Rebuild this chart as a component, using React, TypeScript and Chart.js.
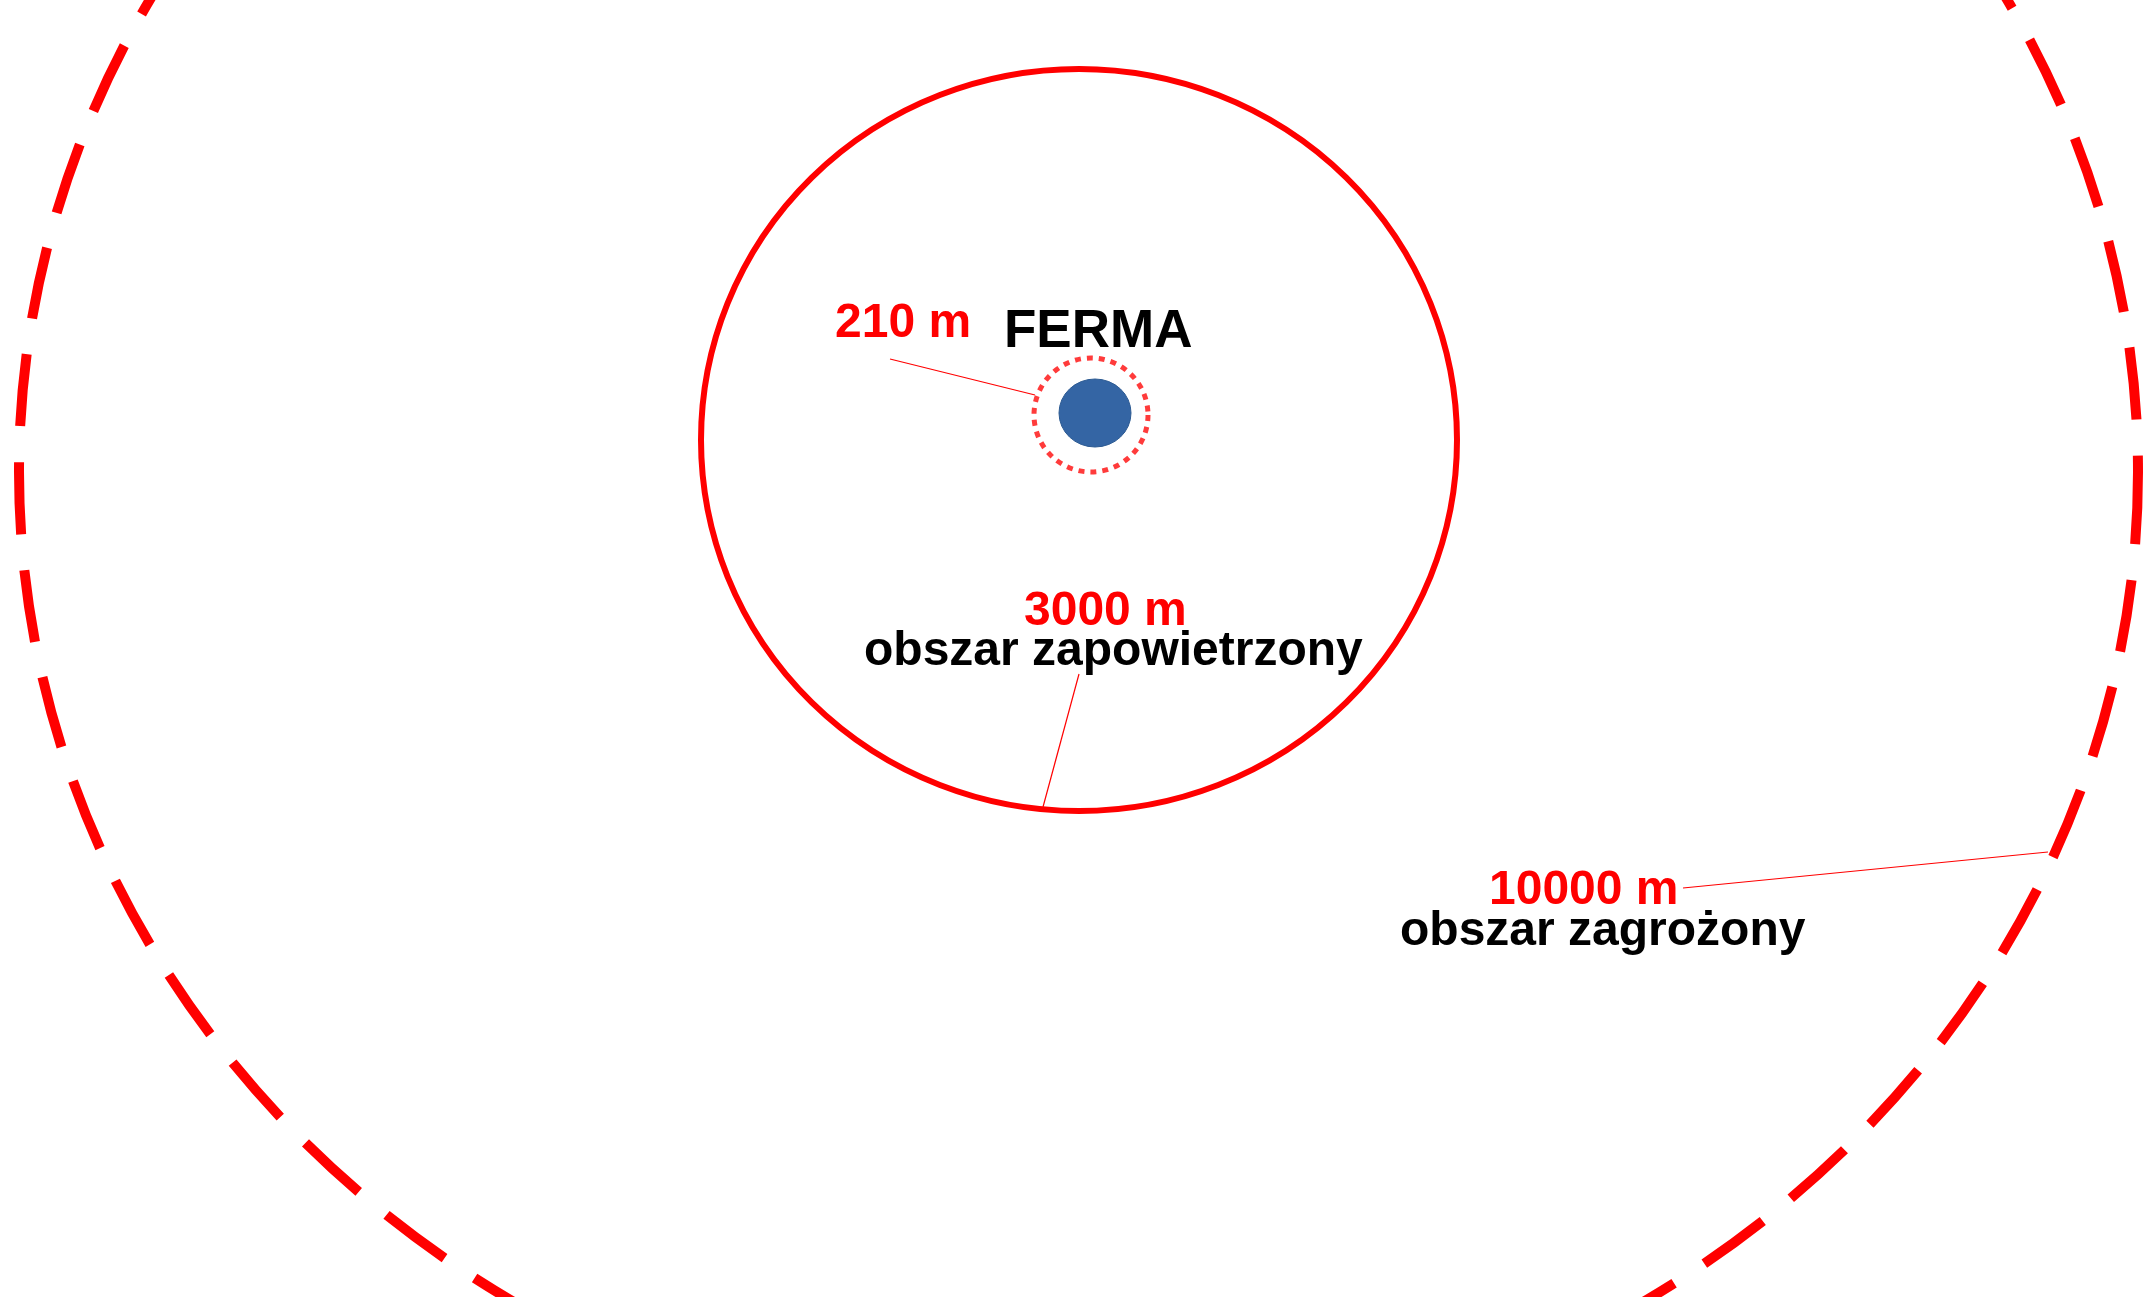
import React, { useEffect, useRef } from "react";
import { Chart, registerables } from "chart.js";

Chart.register(...registerables);

// ---- Diagram data (diagram units: 1 unit = 1 px of the reference) ----
const zoneLabels = ["210 m", "3000 m", "10000 m"];
const zoneDescriptions = ["", "obszar zapowietrzony", "obszar zagrożony"];
const zoneCenterX = [1091, 1079, 1078.5];
const zoneCenterY = [415, 440, 472];
const zoneRadiusX = [57, 378, 1059.5];
const zoneRadiusY = [57, 371, 981];

const farmLabel = "FERMA";
const farmCenter = [1095, 413];
const farmRadius = [36, 34];

// label anchor (left, baseline) for zone values and descriptions
const zoneLabelX = [835, 1024, 1489];
const zoneLabelY = [337, 625, 904];
const zoneDescX = [0, 864, 1400];
const zoneDescY = [0, 665, 945];
const farmLabelPos = [1004, 347];

// leader lines from labels to circles
const leaderFromX = [890, 1079, 1683];
const leaderFromY = [359, 674, 888];
const leaderToX = [1035, 1043, 2048];
const leaderToY = [395, 807, 852];

const W = 2148;
const H = 1297;

export default function App() {
  const ref = useRef<HTMLCanvasElement | null>(null);

  useEffect(() => {
    document.body.style.margin = "0";
    const canvas = ref.current;
    if (!canvas) return;

    const zoneStyles = [
      { color: "#ff3b3b", width: 5, dash: [6, 6] },
      { color: "#ff0000", width: 6, dash: [] as number[] },
      { color: "#ff0000", width: 10, dash: [72.3, 36.1] },
    ];

    const diagramPlugin = {
      id: "diagram",
      beforeDatasetsDraw(chart: any) {
        const { ctx, scales } = chart;
        const xs = scales.x;
        const ys = scales.y;
        ctx.save();
        for (let i = zoneLabels.length - 1; i >= 0; i--) {
          const cx = xs.getPixelForValue(zoneCenterX[i]);
          const cy = ys.getPixelForValue(zoneCenterY[i]);
          const rx = Math.abs(xs.getPixelForValue(zoneCenterX[i] + zoneRadiusX[i]) - cx);
          const ry = Math.abs(ys.getPixelForValue(zoneCenterY[i] + zoneRadiusY[i]) - cy);
          const st = zoneStyles[i];
          ctx.beginPath();
          ctx.ellipse(cx, cy, rx, ry, 0, 0, Math.PI * 2);
          ctx.strokeStyle = st.color;
          ctx.lineWidth = st.width;
          ctx.lineCap = "butt";
          ctx.setLineDash(st.dash);
          ctx.lineDashOffset = 0;
          ctx.stroke();
        }
        ctx.setLineDash([]);
        const fx = xs.getPixelForValue(farmCenter[0]);
        const fy = ys.getPixelForValue(farmCenter[1]);
        const frx = Math.abs(xs.getPixelForValue(farmCenter[0] + farmRadius[0]) - fx);
        const fry = Math.abs(ys.getPixelForValue(farmCenter[1] + farmRadius[1]) - fy);
        ctx.beginPath();
        ctx.ellipse(fx, fy, frx, fry, 0, 0, Math.PI * 2);
        ctx.fillStyle = "#3465a4";
        ctx.fill();
        ctx.strokeStyle = "#2c5a92";
        ctx.lineWidth = 1;
        ctx.stroke();
        ctx.restore();
      },
      afterDatasetsDraw(chart: any) {
        const { ctx, scales } = chart;
        const xs = scales.x;
        const ys = scales.y;
        ctx.save();
        ctx.textAlign = "left";
        ctx.textBaseline = "alphabetic";
        ctx.font = "bold 48px 'Liberation Sans', Arial, sans-serif";
        ctx.fillStyle = "#ff0000";
        for (let i = 0; i < zoneLabels.length; i++) {
          ctx.fillText(zoneLabels[i], xs.getPixelForValue(zoneLabelX[i]), ys.getPixelForValue(zoneLabelY[i]));
        }
        ctx.font = "bold 48px 'Liberation Sans', Arial, sans-serif";
        ctx.fillStyle = "#000000";
        for (let i = 0; i < zoneDescriptions.length; i++) {
          if (!zoneDescriptions[i]) continue;
          ctx.fillText(zoneDescriptions[i], xs.getPixelForValue(zoneDescX[i]), ys.getPixelForValue(zoneDescY[i]));
        }
        ctx.font = "bold 53px 'Liberation Sans', Arial, sans-serif";
        ctx.fillText(farmLabel, xs.getPixelForValue(farmLabelPos[0]), ys.getPixelForValue(farmLabelPos[1]));
        ctx.restore();
      },
    };

    const datasets = leaderFromX.map((_, i) => ({
      type: "line" as const,
      label: "leader " + zoneLabels[i],
      data: [
        { x: leaderFromX[i], y: leaderFromY[i] },
        { x: leaderToX[i], y: leaderToY[i] },
      ],
      borderColor: "#ff0000",
      borderWidth: 1.2,
      pointRadius: 0,
      showLine: true,
      fill: false,
    }));

    const chart = new Chart(canvas, {
      type: "scatter",
      data: { datasets },
      options: {
        responsive: false,
        maintainAspectRatio: false,
        animation: false,
        layout: { padding: 0 },
        scales: {
          x: { type: "linear", min: 0, max: W, display: false },
          y: { type: "linear", min: 0, max: H, reverse: true, display: false },
        },
        plugins: {
          legend: { display: false },
          tooltip: { enabled: false },
        },
      },
      plugins: [diagramPlugin],
    });

    return () => chart.destroy();
  }, []);

  return (
    <div style={{ width: W, height: H, background: "#ffffff", overflow: "hidden" }}>
      <canvas ref={ref} width={W} height={H} style={{ display: "block", width: W, height: H }} />
    </div>
  );
}
